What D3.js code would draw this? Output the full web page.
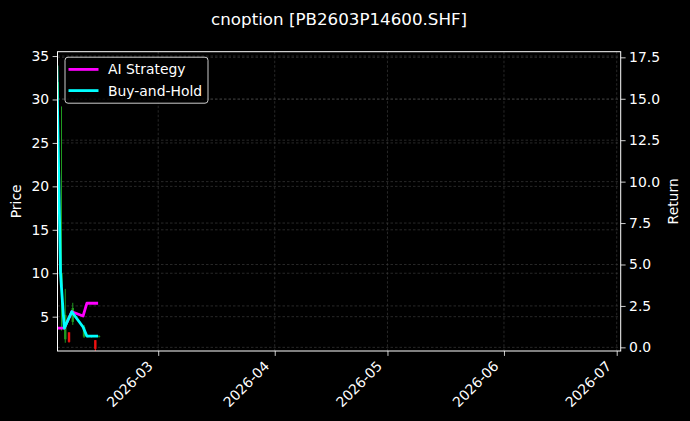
<!DOCTYPE html>
<html>
<head>
<meta charset="utf-8">
<script src="https://cdn.jsdelivr.net/npm/d3@7"></script>
<style>
  body { margin: 0; background: #000; }
  text { font-family: "DejaVu Sans", sans-serif; fill: #fff; }
</style>
</head>
<body>
<div id="chart"></div>
<script>
// daily data (first trading days of Feb 2026)
var dates = ["2026-02-02", "2026-02-03", "2026-02-04", "2026-02-05", "2026-02-06",
             "2026-02-09", "2026-02-10", "2026-02-11", "2026-02-12", "2026-02-13"];
var opens  = [30.0, 8.5, 2.4, 3.2, 4.4, 2.7, 2.7, 2.75, 2.3, 2.7];
var highs  = [33.9, 29.2, 8.2, 3.2, 6.6, 4.05, 2.9, 2.85, 2.3, 2.85];
var lows   = [28.0, 3.4, 2.0, 2.0, 4.05, 2.55, 2.6, 2.6, 1.0, 2.6];
var closes = [32.0, 10.0, 5.2, 2.1, 6.0, 3.8, 2.8, 2.8, 1.3, 2.75];
var aiStrategy = [1.16, 1.16, 1.16, 1.65, 2.15, 1.89, 2.66, 2.66, 2.66, 2.66];
var buyHold    = [17.0, 4.48, 1.16, 1.65, 2.15, 1.23, 0.68, 0.68, 0.68, 0.68];

var priceTicks = [5, 10, 15, 20, 25, 30, 35];
var returnTicks = [0, 2.5, 5, 7.5, 10, 12.5, 15, 17.5];
var monthTicks = ["2026-03-01", "2026-04-01", "2026-05-01", "2026-06-01", "2026-07-01"];

var svgWidth = 690, svgHeight = 421;
var margin = {top: 51.7, right: 69.3, bottom: 70, left: 57.5};
var width = svgWidth - margin.left - margin.right;
var height = 351 - margin.top;

var parse = d3.timeParse("%Y-%m-%d");
var days = dates.map(parse);

var svg = d3.select("#chart").append("svg")
    .attr("width", svgWidth)
    .attr("height", svgHeight)
    .style("background", "#000");

svg.append("defs").append("clipPath").attr("id", "plotclip")
  .append("rect").attr("width", width).attr("height", height);

var chartGroup = svg.append("g")
    .attr("transform", `translate(${margin.left}, ${margin.top})`);

var x = d3.scaleTime()
    .domain([new Date(2026, 1, 2, 4, 48), new Date(2026, 6, 2, 1, 30)])
    .range([0, width]);
var yPrice = d3.scaleLinear().domain([1.05, 35.5]).range([height, 0]);
var yRet = d3.scaleLinear().domain([-0.22, 17.84]).range([height, 0]);

// grids (both axes)
var gridColor = "#3a3a3a";
function gridLine(sel) {
  sel.attr("stroke", gridColor).attr("stroke-width", 0.7).attr("stroke-dasharray", "2.5,2");
}
chartGroup.append("g").selectAll("line").data(priceTicks).enter().append("line")
    .attr("x1", 0).attr("x2", width)
    .attr("y1", d => yPrice(d)).attr("y2", d => yPrice(d))
    .call(gridLine);
chartGroup.append("g").selectAll("line").data(returnTicks).enter().append("line")
    .attr("x1", 0).attr("x2", width)
    .attr("y1", d => yRet(d)).attr("y2", d => yRet(d))
    .call(gridLine);
chartGroup.append("g").selectAll("line").data(monthTicks.map(parse)).enter().append("line")
    .attr("x1", d => x(d)).attr("x2", d => x(d))
    .attr("y1", 0).attr("y2", height)
    .call(gridLine);

var plot = chartGroup.append("g").attr("clip-path", "url(#plotclip)");

// candles
var candleData = days.map((d, i) => ({d: d, o: opens[i], h: highs[i], l: lows[i], c: closes[i]}));
var candleColor = d => d.c >= d.o ? "#1f9a1f" : "#ee1111";
plot.append("g").selectAll("line").data(candleData).enter().append("line")
    .attr("x1", d => x(d.d) + 1).attr("x2", d => x(d.d) + 1)
    .attr("y1", d => yPrice(d.h)).attr("y2", d => yPrice(d.l))
    .attr("stroke", candleColor).attr("stroke-width", 1);
plot.append("g").selectAll("rect").data(candleData).enter().append("rect")
    .attr("x", d => x(d.d) - 0.2).attr("width", 2.4)
    .attr("y", d => yPrice(Math.max(d.o, d.c)))
    .attr("height", d => Math.max(0.8, Math.abs(yPrice(d.o) - yPrice(d.c))))
    .attr("fill", candleColor);

// return lines
var line = d3.line().x((d, i) => x(days[i])).y(d => yRet(d));
plot.append("path").datum(aiStrategy)
    .attr("d", line).attr("fill", "none")
    .attr("stroke", "#ff00ff").attr("stroke-width", 2.8).attr("stroke-linejoin", "round");
plot.append("path").datum(buyHold)
    .attr("d", line).attr("fill", "none")
    .attr("stroke", "#00ffff").attr("stroke-width", 2.8).attr("stroke-linejoin", "round");

// axes
var bottomAxis = d3.axisBottom(x).tickValues(monthTicks.map(parse))
    .tickFormat(d3.timeFormat("%Y-%m")).tickSize(4.9).tickPadding(3.5);
var leftAxis = d3.axisLeft(yPrice).tickValues(priceTicks).tickSize(4.9).tickPadding(3.5);
var rightAxis = d3.axisRight(yRet).tickValues(returnTicks)
    .tickFormat(d3.format(".1f")).tickSize(4.9).tickPadding(3.5);

function styleAxis(g) {
  g.select(".domain").remove();
  g.selectAll(".tick line").attr("stroke", "#fff").attr("stroke-width", 0.8);
  g.selectAll(".tick text").attr("fill", "#fff").style("font-size", "13.9px")
      .style("font-family", "DejaVu Sans");
}

chartGroup.append("g").attr("transform", `translate(0, ${height})`)
    .call(bottomAxis).call(styleAxis)
    .selectAll(".tick text")
    .attr("text-anchor", "end")
    .attr("dy", null)
    .attr("y", 0)
    .attr("transform", "translate(-5, 16) rotate(-45)");
chartGroup.append("g").call(leftAxis).call(styleAxis);
chartGroup.append("g").attr("transform", `translate(${width}, 0)`)
    .call(rightAxis).call(styleAxis);

// frame
chartGroup.append("rect")
    .attr("width", width).attr("height", height)
    .attr("fill", "none").attr("stroke", "#fff").attr("stroke-width", 1);

// legend
var legend = chartGroup.append("g").attr("transform", "translate(7.5, 5.5)");
legend.append("rect")
    .attr("width", 143).attr("height", 46).attr("rx", 3)
    .attr("fill", "#000").attr("fill-opacity", 0.8)
    .attr("stroke", "#cccccc").attr("stroke-width", 1);
var legendItems = [["AI Strategy", "#ff00ff"], ["Buy-and-Hold", "#00ffff"]];
legendItems.forEach(function(item, i) {
  var yy = 12.2 + i * 21.2;
  legend.append("line")
      .attr("x1", 3.5).attr("x2", 33.5).attr("y1", yy).attr("y2", yy)
      .attr("stroke", item[1]).attr("stroke-width", 2.8);
  legend.append("text")
      .attr("x", 43).attr("y", yy + 5)
      .style("font-size", "13.9px")
      .text(item[0]);
});

// titles
svg.append("text")
    .attr("x", margin.left + width / 2).attr("y", 25)
    .attr("text-anchor", "middle")
    .style("font-size", "16.7px")
    .text("cnoption [PB2603P14600.SHF]");

svg.append("text")
    .attr("transform", `translate(21, ${margin.top + height / 2}) rotate(-90)`)
    .attr("text-anchor", "middle")
    .style("font-size", "13.9px")
    .text("Price");

svg.append("text")
    .attr("transform", `translate(678, ${margin.top + height / 2}) rotate(-90)`)
    .attr("text-anchor", "middle")
    .style("font-size", "13.9px")
    .text("Return");
</script>
</body>
</html>
